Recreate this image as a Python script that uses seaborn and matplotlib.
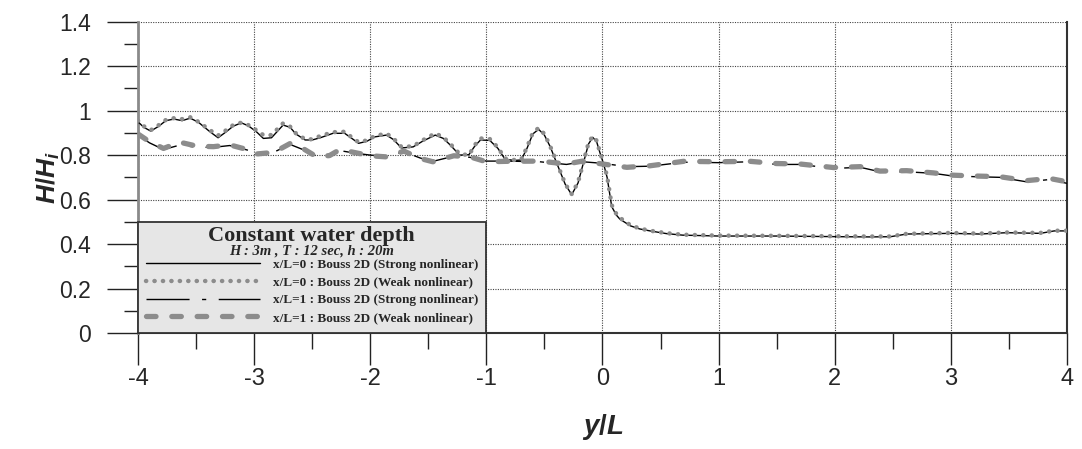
import numpy as np
import pandas as pd
import matplotlib
matplotlib.use("Agg")
import matplotlib.pyplot as plt
from matplotlib import font_manager
from matplotlib.patches import Rectangle
from matplotlib.ticker import MultipleLocator
import seaborn as sns

# ---------------- data ----------------
x_x0 = [-4.0, -3.95, -3.89, -3.82, -3.76, -3.69, -3.62, -3.55, -3.48, -3.38, -3.31, -3.24, -3.18, -3.11,
        -3.05, -2.98, -2.92, -2.85, -2.75, -2.69, -2.64, -2.56, -2.5, -2.43, -2.32, -2.22, -2.15, -2.1,
        -2.03, -1.96, -1.86, -1.8, -1.73, -1.63, -1.55, -1.44, -1.37, -1.31, -1.23, -1.15, -1.1, -1.05,
        -0.97, -0.9, -0.84, -0.76, -0.7, -0.65, -0.6, -0.55, -0.5, -0.45, -0.41, -0.37, -0.32, -0.265,
        -0.21, -0.165, -0.12, -0.084, -0.05, -0.02, 0.01, 0.04, 0.08, 0.12, 0.15, 0.24, 0.32, 0.41,
        0.55, 0.69, 1.0, 1.5, 2.05, 2.3, 2.48, 2.62, 3.0, 3.25, 3.48, 3.77, 3.89, 4.0]
strong_x0 = [0.95, 0.925, 0.908, 0.93, 0.955, 0.962, 0.955, 0.966, 0.948, 0.905, 0.878, 0.905, 0.93, 0.945,
             0.932, 0.905, 0.875, 0.878, 0.935, 0.925, 0.895, 0.868, 0.868, 0.878, 0.898, 0.898, 0.872, 0.853,
             0.862, 0.882, 0.89, 0.87, 0.832, 0.837, 0.862, 0.89, 0.875, 0.845, 0.80, 0.802, 0.84, 0.868,
             0.866, 0.83, 0.782, 0.776, 0.778, 0.83, 0.895, 0.916, 0.89, 0.838, 0.785, 0.733, 0.668, 0.622,
             0.675, 0.763, 0.85, 0.88, 0.86, 0.808, 0.76, 0.70, 0.568, 0.53, 0.512, 0.482, 0.468, 0.459,
             0.447, 0.44, 0.436, 0.436, 0.433, 0.432, 0.433, 0.445, 0.448, 0.445, 0.451, 0.448, 0.459, 0.459]
weak_x0 = [0.955, 0.93, 0.912, 0.935, 0.958, 0.966, 0.962, 0.97, 0.95, 0.912, 0.888, 0.912, 0.935, 0.946,
           0.935, 0.912, 0.89, 0.89, 0.943, 0.928, 0.898, 0.871, 0.871, 0.886, 0.903, 0.905, 0.876, 0.858,
           0.866, 0.886, 0.897, 0.875, 0.836, 0.84, 0.866, 0.898, 0.88, 0.85, 0.805, 0.80, 0.845, 0.875,
           0.872, 0.834, 0.785, 0.778, 0.78, 0.835, 0.9, 0.922, 0.895, 0.84, 0.788, 0.735, 0.67, 0.625,
           0.678, 0.765, 0.855, 0.885, 0.865, 0.81, 0.762, 0.705, 0.575, 0.535, 0.518, 0.485, 0.47, 0.46,
           0.449, 0.442, 0.438, 0.437, 0.435, 0.434, 0.434, 0.446, 0.45, 0.447, 0.452, 0.45, 0.46, 0.46]

x_x1 = [-4.0, -3.9, -3.78, -3.64, -3.49, -3.35, -3.21, -3.06, -2.98, -2.83, -2.69, -2.58, -2.46, -2.35,
        -2.26, -2.12, -2.0, -1.86, -1.71, -1.57, -1.46, -1.28, -1.14, -1.0, -0.82, -0.54, -0.31, -0.17,
        0.0, 0.21, 0.41, 0.7, 1.0, 1.27, 1.5, 1.7, 1.99, 2.22, 2.39, 2.62, 2.85, 3.0, 3.2, 3.42, 3.65,
        3.85, 4.0]
strong_x1 = [0.89, 0.855, 0.825, 0.845, 0.835, 0.835, 0.843, 0.823, 0.808, 0.813, 0.848, 0.825, 0.795,
             0.80, 0.82, 0.808, 0.80, 0.795, 0.815, 0.787, 0.772, 0.795, 0.79, 0.773, 0.773, 0.77, 0.758,
             0.77, 0.763, 0.748, 0.75, 0.768, 0.766, 0.77, 0.758, 0.758, 0.74, 0.745, 0.725, 0.725, 0.718,
             0.707, 0.703, 0.70, 0.68, 0.69, 0.673]
weak_x1 = [0.895, 0.86, 0.83, 0.858, 0.84, 0.838, 0.846, 0.825, 0.805, 0.812, 0.852, 0.83, 0.792,
           0.798, 0.825, 0.81, 0.797, 0.792, 0.818, 0.785, 0.77, 0.797, 0.792, 0.77, 0.772, 0.773, 0.76,
           0.773, 0.76, 0.745, 0.752, 0.772, 0.77, 0.772, 0.762, 0.76, 0.744, 0.748, 0.728, 0.73, 0.72,
           0.71, 0.706, 0.703, 0.685, 0.695, 0.68]

labels = ["x/L=0 : Bouss 2D (Strong nonlinear)",
          "x/L=0 : Bouss 2D (Weak nonlinear)",
          "x/L=1 : Bouss 2D (Strong nonlinear)",
          "x/L=1 : Bouss 2D (Weak nonlinear)"]
x_ticks = [-4, -3, -2, -1, 0, 1, 2, 3, 4]
y_ticks = [0, 0.2, 0.4, 0.6, 0.8, 1, 1.2, 1.4]
y_ticklabels = ["0", "0.2", "0.4", "0.6", "0.8", "1", "1.2", "1.4"]
title_text = "Constant water depth"
subtitle_text = "H : 3m , T : 12 sec, h : 20m"

# ---------------- style ----------------
sns.set_style("ticks")
avail = {f.name for f in font_manager.fontManager.ttflist}
sans = "Liberation Sans" if "Liberation Sans" in avail else "DejaVu Sans"
serif = "Liberation Serif" if "Liberation Serif" in avail else "DejaVu Serif"
narrow = "Liberation Sans Narrow" if "Liberation Sans Narrow" in avail else sans
plt.rcParams["font.family"] = [sans, "DejaVu Sans"]
plt.rcParams["mathtext.fontset"] = "custom"
plt.rcParams["mathtext.it"] = f"{sans}:italic:bold"
plt.rcParams["mathtext.rm"] = f"{sans}:bold"

fig = plt.figure(figsize=(10.82, 4.49), dpi=100)
ax = fig.add_axes([0.1275, 0.2584, 0.8586, 0.6933])

df = pd.DataFrame({"x": x_x0, "s": strong_x0, "w": weak_x0})
df1 = pd.DataFrame({"x": x_x1, "s": strong_x1, "w": weak_x1})

sns.lineplot(data=df, x="x", y="s", ax=ax, color="black", linewidth=1.0,
             sort=False, estimator=None, label=labels[0], zorder=3)
sns.lineplot(data=df1, x="x", y="s", ax=ax, color="black", linewidth=1.0,
             linestyle=(0, (31, 9, 3, 9)), sort=False, estimator=None, label=labels[2], zorder=3)
sns.lineplot(data=df, x="x", y="w", ax=ax, color="#8c8c8c", linewidth=3.2,
             linestyle=(0, (0.05, 1.85)), dash_capstyle="round", sort=False, estimator=None,
             label=labels[1], zorder=4)
sns.lineplot(data=df1, x="x", y="w", ax=ax, color="#8c8c8c", linewidth=3.8,
             linestyle=(0, (1.8, 3.0)), dash_capstyle="round", sort=False, estimator=None,
             label=labels[3], zorder=4)

ax.set_xlim(-4, 4)
ax.set_ylim(0, 1.4)
ax.set_xticks(x_ticks)
ax.set_xticklabels([str(v) for v in x_ticks], fontfamily=narrow, fontsize=17)
ax.set_yticks(y_ticks)
ax.set_yticklabels(y_ticklabels, fontsize=16.5)
ax.xaxis.set_minor_locator(MultipleLocator(0.5))
ax.yaxis.set_minor_locator(MultipleLocator(0.1))
ax.tick_params(axis="x", which="both", bottom=True, top=False)
ax.tick_params(axis="y", which="both", left=True, right=False)
ax.tick_params(axis="x", which="major", direction="out", length=23, width=1, pad=2, color="#222")
ax.tick_params(axis="x", which="minor", direction="out", length=11.5, width=1, color="#222")
ax.tick_params(axis="y", which="major", direction="out", length=22, width=1, pad=12, color="#222")
ax.tick_params(axis="y", which="minor", direction="out", length=10, width=1, color="#222")

ax.grid(True, which="major", linestyle=(0, (1, 1.2)), color="#444", linewidth=0.8)
ax.set_axisbelow(True)

ax.spines["top"].set_visible(False)
ax.spines["left"].set_color("#8a8a8a")
ax.spines["left"].set_linewidth(2.0)
ax.spines["bottom"].set_color("#333")
ax.spines["bottom"].set_linewidth(1.5)
ax.spines["right"].set_visible(True)
ax.spines["right"].set_color("#333")
ax.spines["right"].set_linewidth(1.5)

ax.set_xlabel(r"$\mathit{y/L}$", fontsize=20)
ax.set_ylabel(r"$\mathit{H/H_i}$", fontsize=19)
ax.xaxis.set_label_coords(0.5, -0.255)
ax.yaxis.set_label_coords(-0.082, 0.5)

# legend panel
box = Rectangle((0.0, 0.0), 0.375, 0.355, transform=ax.transAxes, facecolor="#e6e6e6",
                edgecolor="#333", linewidth=1.3, zorder=5, clip_on=False)
ax.add_patch(box)
ax.text(0.187, 0.312, title_text, transform=ax.transAxes, ha="center", va="center",
        fontfamily=serif, fontweight="bold", fontsize=16, zorder=6)
ax.text(0.187, 0.264, subtitle_text, transform=ax.transAxes, ha="center", va="center",
        fontfamily=serif, fontweight="bold", fontstyle="italic", fontsize=10.5, zorder=6)
handles, labs = ax.get_legend_handles_labels()
order = [labs.index(l) for l in labels]
leg = ax.legend([handles[i] for i in order], [labs[i] for i in order], loc="upper left",
                bbox_to_anchor=(0.006, 0.248), frameon=False, handlelength=8.6, handletextpad=1.0,
                labelspacing=0.42, borderpad=0.2, borderaxespad=0.0,
                prop={"family": serif, "weight": "bold", "size": 9.5})
leg.set_zorder(7)

fig.savefig("out.png", dpi=100)
